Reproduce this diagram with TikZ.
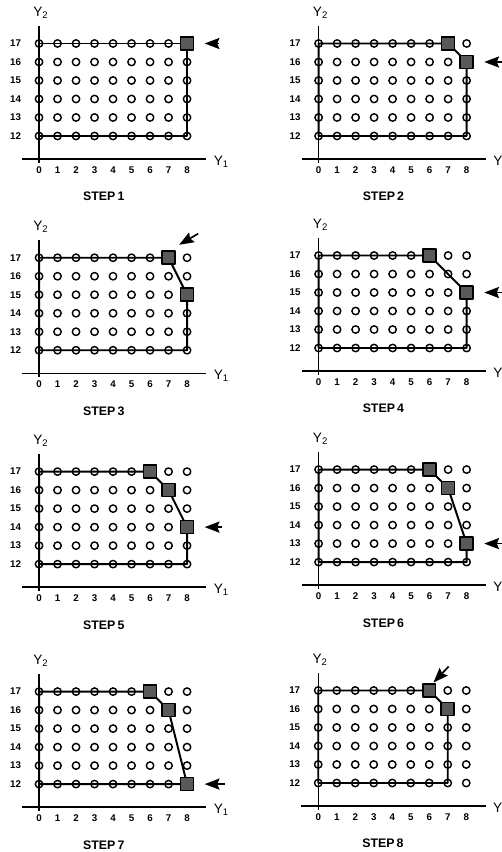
\documentclass[tikz,border=0pt]{standalone}
\usepackage{fontspec}
\setmainfont{Liberation Sans}
\usetikzlibrary{arrows.meta}

\begin{document}
\begin{tikzpicture}[x=0.5cm, y=0.5cm, line join=round,
    axis/.style={line width=1pt},
    pt/.style={line width=1.1pt},
    rim/.style={line width=1.5pt},
    sqbox/.style={draw, line width=1.2pt, fill=black!65, minimum size=0.35cm, inner sep=0pt},
    pointer/.style={line width=1.3pt, -{Stealth[length=0.4cm, width=0.3cm, inset=0.06cm]}, shorten >=0.28cm},
    num/.style={font=\fontsize{7.5}{8}\selectfont\bfseries},
    steplab/.style={font=\fontsize{9.5}{10}\selectfont\bfseries},
    axlab/.style={font=\fontsize{10.5}{11}\selectfont}]
  \useasboundingbox (0,0) rectangle (27.08,-46.05);
  % axes, labels and grid of every panel
  \foreach \px/\py/\n in {2.11/-19.35/1, 17.22/-19.35/2, 2.11/-30.93/3, 17.22/-30.81/4,
                          2.11/-42.49/5, 17.22/-42.38/6, 2.11/-54.38/7, 17.2/-54.32/8}{
    \begin{scope}[shift={(\px,\py)}]
      \draw[axis] (-0.92,10.76) -- (9.05,10.76);
      \draw[axis] (0,10.55) -- (0,17.97);
      \node[axlab] (ytwo\n) at (0.1,18.65) {Y\textsubscript{2}};
      \node[axlab, anchor=west] (yone\n) at (9.2,10.6) {Y\textsubscript{1}};
      \foreach \i in {0,...,8} \node[num] (x\i-\n) at (\i,10.16) {\i};
      \foreach \j in {12,...,17} \node[num] (v\j-\n) at (-1.27,\j) {\j};
      \node[steplab] (step\n) at (3.5,8.72) {STEP\,\n};
      \foreach \i in {0,...,8}
        \foreach \j in {12,...,17}
          \draw[pt] (\i,\j) circle[radius=0.2];
    \end{scope}
  }
  % step 1
  \begin{scope}[shift={(2.11,-19.35)}]
    \draw[rim] (0,12) -- (0,17) -- (8,17) -- (8,12) -- cycle;
    \node[sqbox] (c1a) at (8,17) {};
    \coordinate (t1) at (9.75,17);
    \draw[pointer] (t1) -- (c1a);
  \end{scope}
  % step 2
  \begin{scope}[shift={(17.22,-19.35)}]
    \draw[rim] (0,12) -- (0,17) -- (7,17) -- (8,16) -- (8,12) -- cycle;
    \node[sqbox] (c2a) at (7,17) {};
    \node[sqbox] (c2b) at (8,16) {};
    \coordinate (t2) at (9.95,16);
    \draw[pointer] (t2) -- (c2b);
  \end{scope}
  % step 3
  \begin{scope}[shift={(2.11,-30.93)}]
    \draw[rim] (0,12) -- (0,17) -- (7,17) -- (8,15) -- (8,12) -- cycle;
    \node[sqbox] (c3a) at (7,17) {};
    \node[sqbox] (c3b) at (8,15) {};
    \coordinate (t3) at (8.6,18.3);
    \coordinate (h3) at (7.57,17.7);
    \draw[pointer, shorten >=0pt] (t3) -- (h3);
  \end{scope}
  % step 4
  \begin{scope}[shift={(17.22,-30.81)}]
    \draw[rim] (0,12) -- (0,17) -- (6,17) -- (8,15) -- (8,12) -- cycle;
    \node[sqbox] (c4a) at (6,17) {};
    \node[sqbox] (c4b) at (8,15) {};
    \coordinate (t4) at (10,15);
    \draw[pointer] (t4) -- (c4b);
  \end{scope}
  % step 5
  \begin{scope}[shift={(2.11,-42.49)}]
    \draw[rim] (0,12) -- (0,17) -- (6,17) -- (7,16) -- (8,14) -- (8,12) -- cycle;
    \node[sqbox] (c5a) at (6,17) {};
    \node[sqbox] (c5b) at (7,16) {};
    \node[sqbox] (c5c) at (8,14) {};
    \coordinate (t5) at (9.9,14);
    \draw[pointer] (t5) -- (c5c);
  \end{scope}
  % step 6
  \begin{scope}[shift={(17.22,-42.38)}]
    \draw[rim] (0,12) -- (0,17) -- (6,17) -- (7,16) -- (8,13) -- (8,12) -- cycle;
    \node[sqbox] (c6a) at (6,17) {};
    \node[sqbox] (c6b) at (7,16) {};
    \node[sqbox] (c6c) at (8,13) {};
    \coordinate (t6) at (10.15,13);
    \draw[pointer] (t6) -- (c6c);
  \end{scope}
  % step 7
  \begin{scope}[shift={(2.11,-54.38)}]
    \draw[rim] (0,12) -- (0,17) -- (6,17) -- (7,16) -- (8,12) -- cycle;
    \node[sqbox] (c7a) at (6,17) {};
    \node[sqbox] (c7b) at (7,16) {};
    \node[sqbox] (c7c) at (8,12) {};
    \coordinate (t7) at (10.05,12);
    \draw[pointer] (t7) -- (c7c);
  \end{scope}
  % step 8
  \begin{scope}[shift={(17.2,-54.32)}]
    \draw[rim] (0,12) -- (0,17) -- (6,17) -- (7,16) -- (7,12) -- cycle;
    \node[sqbox] (c8a) at (6,17) {};
    \node[sqbox] (c8b) at (7,16) {};
    \coordinate (t8) at (7.05,18.3);
    \coordinate (h8) at (6.23,17.43);
    \draw[pointer, shorten >=0pt] (t8) -- (h8);
  \end{scope}
\end{tikzpicture}
\end{document}
